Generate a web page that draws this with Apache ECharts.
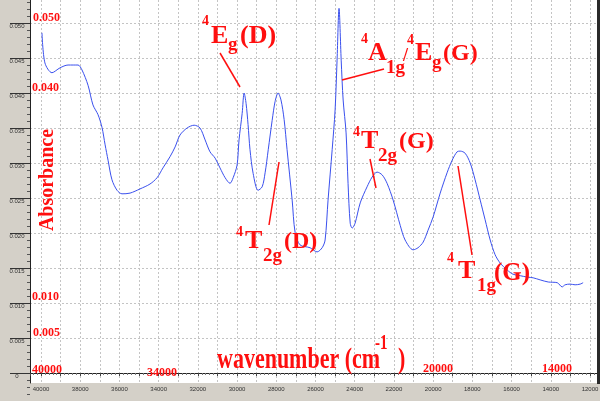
<!DOCTYPE html>
<html><head><meta charset="utf-8">
<script src="https://cdn.jsdelivr.net/npm/echarts@6/dist/echarts.min.js"></script>
<style>html,body{margin:0;padding:0;background:#d4d0c8}#c{width:600px;height:401px}</style>
</head><body><div id="c"></div>
<script>
// ---- data ----
const wavenumber = [39950,39800,39440,39030,38620,38110,37910,37600,37350,37090,36890,36730,36580,36380,36120,35870,35460,34950,34440,34080,33780,33420,33160,32910,32550,32190,31890,31630,31380,31120,30870,30610,30360,30200,30000,29900,29740,29640,29540,29440,29340,29180,28930,28720,28570,28410,28210,28060,27910,27760,27600,27450,27190,27040,26790,26280,25920,25660,25510,25360,25150,25000,24900,24800,24690,24590,24440,24340,24230,24130,23980,23720,23370,23110,22860,22600,22350,22040,21680,21430,21020,20770,20510,20260,20000,19640,19290,19030,18780,18620,18370,18110,17860,17600,17350,17090,16840,16580,16220,15920,15560,15200,14900,14540,14130,13670,13420,13270,13010,12760,12500,12350];
const absorbance = [0.0486,0.0443,0.0429,0.0436,0.0440,0.0440,0.0433,0.0411,0.0383,0.0369,0.0351,0.0326,0.0304,0.0276,0.0261,0.0256,0.0257,0.0263,0.0270,0.0279,0.0293,0.0309,0.0323,0.0340,0.0350,0.0354,0.0350,0.0333,0.0316,0.0307,0.0293,0.0279,0.0271,0.0279,0.0297,0.0333,0.0371,0.0400,0.0385,0.0355,0.0319,0.0285,0.0261,0.0266,0.0286,0.0319,0.0361,0.0388,0.0400,0.0390,0.0362,0.0319,0.0247,0.0201,0.0183,0.0179,0.0173,0.0179,0.0190,0.0247,0.0319,0.0376,0.0447,0.0521,0.0447,0.0390,0.0343,0.0271,0.0214,0.0207,0.0214,0.0243,0.0266,0.0280,0.0287,0.0283,0.0271,0.0247,0.0211,0.0190,0.0176,0.0179,0.0187,0.0204,0.0223,0.0257,0.0286,0.0304,0.0316,0.0317,0.0314,0.0300,0.0276,0.0247,0.0219,0.0190,0.0169,0.0157,0.0147,0.0141,0.0139,0.0137,0.0136,0.0133,0.0130,0.0129,0.0123,0.0126,0.0127,0.0126,0.0127,0.0129];
const redTickLabels = ['0.050','0.040','0.010','0.005','40000','34000','20000','14000'];
const yAxisTitle = 'Absorbance';
const xAxisTitle = ['wavenumber (cm', '-1', ')'];

// ---- layout ----
const RED = '#ff0f0f';
const S = 549 / 28000;           // px per cm-1
const X_MIN = 11000, X_MAX = 40561;
const dataRight = 600 - 30 - (X_MAX - X_MIN) * S;

function T(str, x, base, size, o) {
  o = o || {};
  return {type:'text', x:x, y:base, scaleX:o.sx||1, scaleY:o.sy||1, rotation:o.rot||0, z:100,
    style:{text:str, x:0, y:-0.3375*size, fill:RED, font:'bold '+size+'px "Liberation Serif"',
      align:o.align||'left', verticalAlign:'middle', textAlign:o.align||'left', textVerticalAlign:'middle'}};
}
function L(x1,y1,x2,y2){ return {type:'line', z:100, shape:{x1:x1,y1:y1,x2:x2,y2:y2}, style:{stroke:RED, lineWidth:1.5}}; }

const redPos = [[33,22],[32,92],[32,301],[33,337],[32,374],[147,377],[423,373],[542,373]];
const graphics = [];
redTickLabels.forEach((t,i)=>graphics.push(T(t, redPos[i][0], redPos[i][1], 12)));
// axis titles
graphics.push(T(xAxisTitle[0], 217, 370, 22, {sy:1.35}));
graphics.push(T(xAxisTitle[1], 375, 351, 15, {sy:1.35}));
graphics.push(T(xAxisTitle[2], 398, 370, 22, {sy:1.35}));
graphics.push({type:'text', x:48, y:180, rotation:Math.PI/2, z:100,
  style:{text:yAxisTitle, x:0, y:0, fill:RED, font:'bold 20px "Liberation Serif"', align:'center', verticalAlign:'middle', textAlign:'center', textVerticalAlign:'middle'}});
// 4Eg(D)
graphics.push(T('4',202,26,14), T('E',211,45,26), T('g',228,52,19), T('(D)',240,45,26));
graphics.push(L(220,53,240,87));
// 4A1g/4Eg(G)
graphics.push(T('4',361,44,14), T('A',368,62,26), T('1g',386,75,19), T('/',403,62,18), T('4',407,45,14), T('E',415,62,26), T('g',432,70,19), T('(G)',443,62,24));
graphics.push(L(342,80,384,69));
// 4T2g(G)
graphics.push(T('4',353,137,14), T('T',361,150,26), T('2g',378,163,19), T('(G)',399,150,24));
graphics.push(L(370,159,376,188));
// 4T2g(D)
graphics.push(T('4',236,237,14), T('T',245,250,26), T('2g',263,263,19), T('(D)',284,250,24));
graphics.push(L(279,162,269,225));
// 4T1g(G)
graphics.push(T('4',447,263,14), T('T',458,280,26), T('1g',477,293,19), T('(G)',494,282,25));
graphics.push(L(458,166,472,255));
// right frame edge
graphics.push({type:'rect', z:90, shape:{x:597, y:0, width:3, height:384}, style:{fill:'#2a2a2a'}});

const chart = echarts.init(document.getElementById('c'), null, {renderer:'canvas'});
chart.setOption({
  backgroundColor:'#d4d0c8',
  animation:false,
  grid:[
    {left:30, right:dataRight, top:0, bottom:18, show:true, backgroundColor:'#ffffff', borderWidth:0, containLabel:false, outerBoundsMode:'none'},
    {left:30, right:2, top:-12, bottom:-7, show:false, containLabel:false, outerBoundsMode:'none'}
  ],
  xAxis:[
    {type:'value', gridIndex:0, inverse:true, min:X_MIN, max:X_MAX, interval:1000,
     axisLine:{show:true, lineStyle:{color:'#222', width:1}},
     axisTick:{show:true, length:3, lineStyle:{color:'#444'}},
     minorTick:{show:true, splitNumber:5, length:2, lineStyle:{color:'#777'}},
     axisLabel:{fontSize:6, color:'#333', margin:3, fontFamily:'Liberation Sans', formatter:v => (Math.round(v)%2000===0 ? String(v) : '')},
     splitLine:{show:true, lineStyle:{color:'#c4c4c4', type:[2,2], width:1}}},
    {type:'value', gridIndex:1, show:false, min:0, max:1}
  ],
  yAxis:[
    {type:'value', gridIndex:0, min:-0.00143, max:0.05329,
     axisLine:{show:true, lineStyle:{color:'#222'}}, axisTick:{show:false}, axisLabel:{show:false}, splitLine:{show:false}},
    {type:'value', gridIndex:1, min:-0.005, max:0.055, interval:0.005,
     axisLine:{show:false},
     axisTick:{show:true, length:20, lineStyle:{color:'#333'}},
     minorTick:{show:true, splitNumber:5, length:3, lineStyle:{color:'#555'}},
     axisLabel:{fontSize:6, color:'#333', margin:13, align:'center', verticalAlign:'top', fontFamily:'Liberation Sans',
       formatter:v => (Math.abs(v)<1e-9 ? '0' : v.toFixed(3))},
     splitLine:{show:true, lineStyle:{color:'#c4c4c4', type:[2,2], width:1}}}
  ],
  series:[{type:'line', xAxisIndex:0, yAxisIndex:0, data:wavenumber.map((w,i)=>[w, absorbance[i]]),
    showSymbol:false, smooth:0.3, clip:true, lineStyle:{color:'#3a50ee', width:1}}],
  graphic:graphics
});
</script></body></html>
